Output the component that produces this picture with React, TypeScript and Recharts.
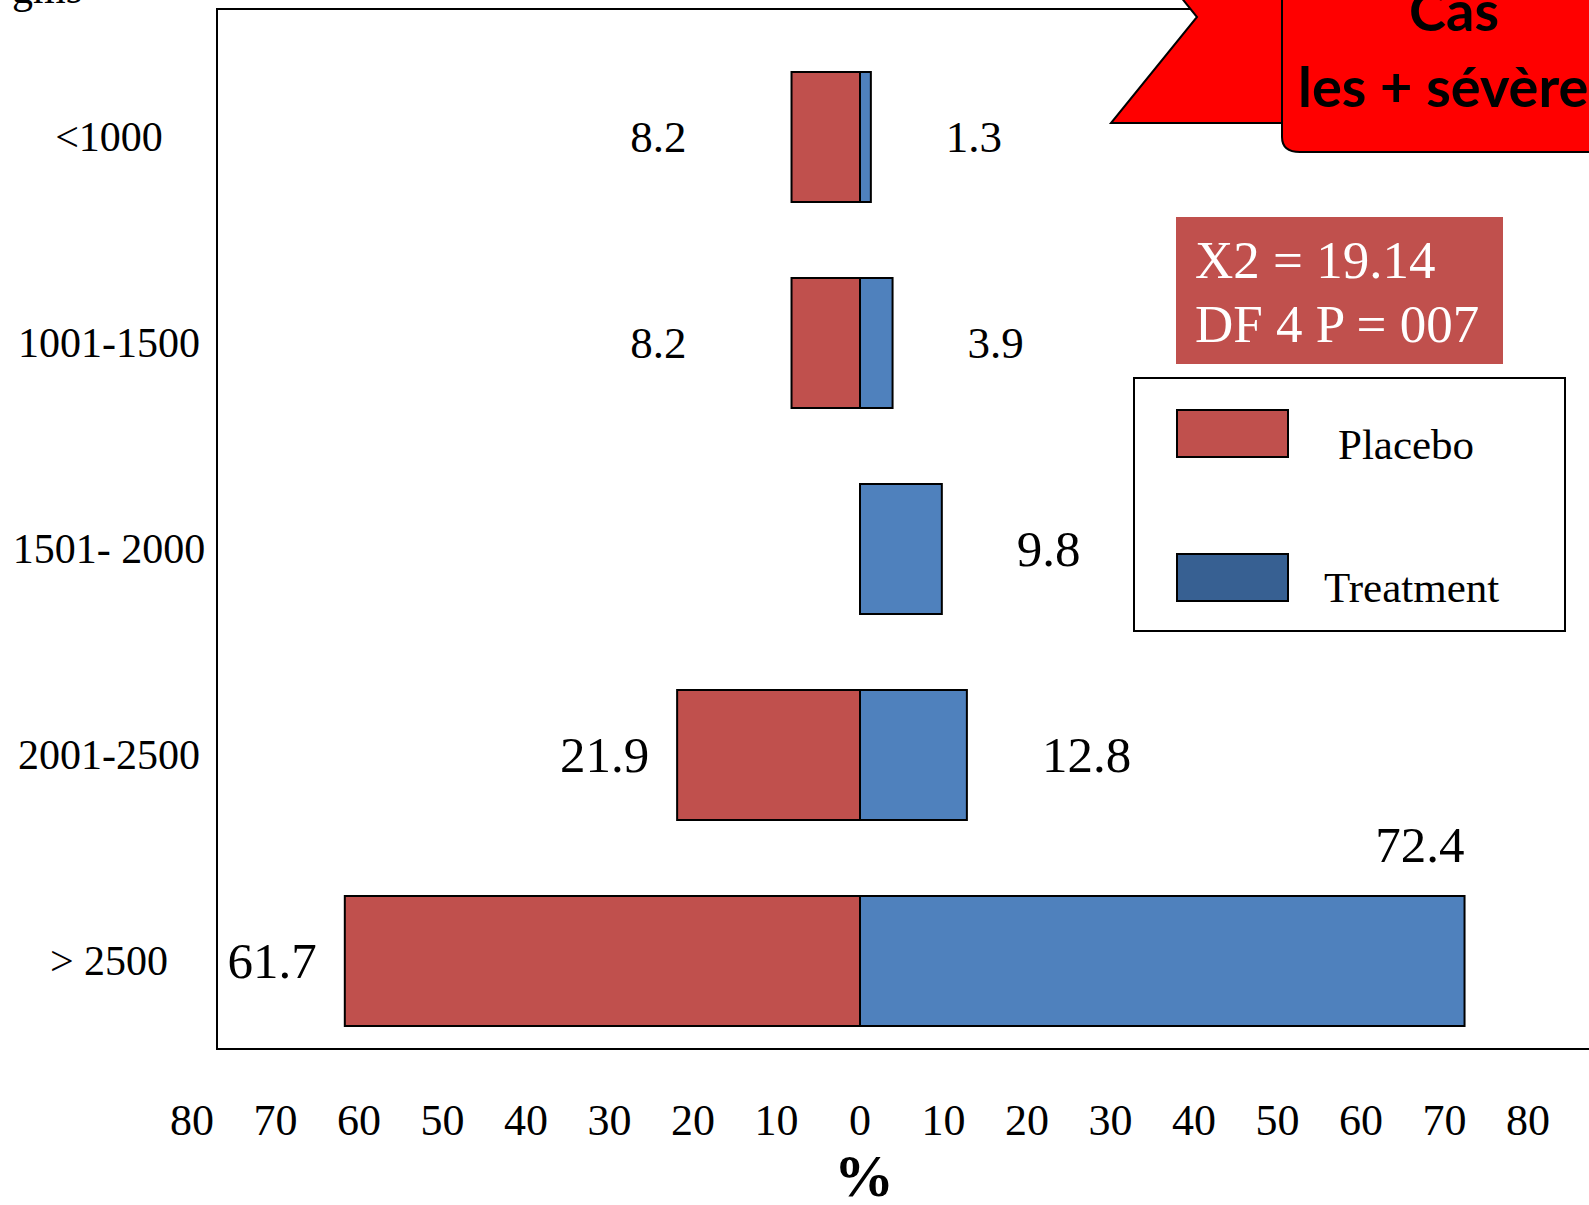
import React from "react";
import { BarChart, Bar, XAxis, YAxis, Legend, LabelList, Label } from "recharts";

// birth weight bands (gms), top to bottom
const weightBands = ["<1000", "1001-1500", "1501- 2000", "2001-2500", "> 2500"];
// share of cases per band, %
const placeboPct = [8.2, 8.2, 0, 21.9, 61.7];
const treatmentPct = [1.3, 3.9, 9.8, 12.8, 72.4];
const pctTicks = [-80, -70, -60, -50, -40, -30, -20, -10, 0, 10, 20, 30, 40, 50, 60, 70, 80];
const statLines = ["X2 = 19.14", "DF 4 P = 007"];

const SERIF = '"Liberation Serif", "Times New Roman", serif';
const PLACEBO = "#C0504D";
const TREATMENT = "#4F81BD";
const swatch: Record<string, string> = { Placebo: "#C0504D", Treatment: "#376092" };

// placebo goes to the left of zero
const rows = weightBands.map((band, i) => ({
  band,
  placebo: -placeboPct[i],
  treatment: treatmentPct[i],
}));

const BandTick = ({ x, y, payload }: any) => (
  <text x={x - 83} y={y} dy={14} textAnchor="middle" fontFamily={SERIF} fontSize={42} fill="#000">
    {payload.value}
  </text>
);

const PctTick = ({ x, y, payload }: any) => (
  <text x={x} y={y + 71} textAnchor="middle" fontFamily={SERIF} fontSize={44} fill="#000">
    {Math.abs(payload.value)}
  </text>
);

// labels get the band name as value, so the row is looked up from it
const valueLabel = (values: number[], side: "left" | "right") => (props: any) => {
  const i = weightBands.indexOf(props.value);
  const v = values[i];
  if (!v) return null;
  const vb = props.viewBox ?? props;
  const x0 = Math.min(vb.x, vb.x + vb.width);
  const x1 = Math.max(vb.x, vb.x + vb.width);
  const top = Math.min(vb.y, vb.y + vb.height);
  const cy = top + Math.abs(vb.height) / 2;
  const small = i < 2;
  const size = small ? 45 : 51;
  const common = { fontFamily: SERIF, fontSize: size, fill: "#000" };
  if (side === "right" && i === values.length - 1) {
    // widest bar: value sits above its end
    return (
      <text x={x1} y={top - 34} textAnchor="end" {...common}>
        {v.toFixed(1)}
      </text>
    );
  }
  return side === "left" ? (
    <text x={x0 - (small ? 105 : 28)} y={cy} dy={size * 0.34} textAnchor="end" {...common}>
      {v.toFixed(1)}
    </text>
  ) : (
    <text x={x1 + 75} y={cy} dy={size * 0.34} textAnchor="start" {...common}>
      {v.toFixed(1)}
    </text>
  );
};

const LegendBox = ({ payload }: any) => (
  <svg width={433} height={255} style={{ display: "block" }}>
    <rect x={1} y={1} width={431} height={253} fill="#fff" stroke="#000" strokeWidth={2} />
    {(payload || []).map((p: any, i: number) => (
      <g key={p.value}>
        <rect
          x={44}
          y={33 + i * 144}
          width={111}
          height={47}
          fill={swatch[p.value] ?? p.color}
          stroke="#000"
          strokeWidth={2}
        />
        <text
          x={i === 0 ? 205 : 191}
          y={i === 0 ? 82 : 225}
          fontFamily={SERIF}
          fontSize={43}
          fill="#000"
        >
          {p.value}
        </text>
      </g>
    ))}
  </svg>
);

export default function App() {
  return (
    <div style={{ position: "absolute", left: 0, top: 0, width: 1589, height: 1205, overflow: "hidden", background: "#fff" }}>
      {/* plot frame, open on the right */}
      <div
        style={{
          position: "absolute",
          left: 216,
          top: 8,
          width: 1500,
          height: 1042,
          border: "2px solid #000",
          boxSizing: "border-box",
        }}
      />
      <div style={{ position: "absolute", left: 0, top: 0 }}>
        <BarChart
          width={1589}
          height={1205}
          data={rows}
          layout="vertical"
          stackOffset="sign"
          barSize={130}
          margin={{ top: 34, right: 61, bottom: 0, left: 12 }}
        >
          <XAxis
            type="number"
            domain={[-80, 80]}
            ticks={pctTicks}
            interval={0}
            height={141}
            axisLine={false}
            tickLine={false}
            tickSize={0}
            tickMargin={0}
            tick={<PctTick />}
          >
            <Label
              content={({ viewBox }: any) => (
                <text
                  x={viewBox.x + viewBox.width / 2 + 4}
                  y={viewBox.y + 132}
                  textAnchor="middle"
                  fontFamily={SERIF}
                  fontWeight="bold"
                  fontSize={60}
                  fill="#000"
                >
                  %
                </text>
              )}
            />
          </XAxis>
          <YAxis
            type="category"
            dataKey="band"
            width={180}
            interval={0}
            axisLine={false}
            tickLine={false}
            tickSize={0}
            tickMargin={0}
            tick={<BandTick />}
          />
          <Legend
            layout="vertical"
            align="center"
            verticalAlign="middle"
            wrapperStyle={{ left: 1133, top: 377, width: 433, height: 255 }}
            content={<LegendBox />}
          />
          <Bar dataKey="placebo" name="Placebo" stackId="w" fill={PLACEBO} stroke="#000" strokeWidth={2} isAnimationActive={false}>
            <LabelList dataKey="band" content={valueLabel(placeboPct, "left")} />
          </Bar>
          <Bar dataKey="treatment" name="Treatment" stackId="w" fill={TREATMENT} stroke="#000" strokeWidth={2} isAnimationActive={false}>
            <LabelList dataKey="band" content={valueLabel(treatmentPct, "right")} />
          </Bar>
        </BarChart>
      </div>
      <svg width={1589} height={1205} style={{ position: "absolute", left: 0, top: 0, pointerEvents: "none" }}>
        <text x={12} y={3} fontFamily={SERIF} fontSize={42} fill="#000">
          gms
        </text>
        {/* banner */}
        <path d="M1180,-4 L1197,17 L1111,123 L1284,123 L1284,-4 Z" fill="#FF0000" stroke="#000" strokeWidth={2} />
        <path d="M1282,-4 L1282,137 Q1282,152 1300,152 L1600,152 L1600,-4 Z" fill="#FF0000" stroke="#000" strokeWidth={2} />
        <text x={1454} y={31} textAnchor="middle" fontFamily="Lato, sans-serif" fontWeight={700} fontSize={56} fill="#000">
          Cas
        </text>
        <text x={1298} y={107} fontFamily="Lato, sans-serif" fontWeight={700} fontSize={56} fill="#000">
          les + sévères
        </text>
        {/* test statistic */}
        <rect x={1176} y={217} width={327} height={147} fill="#C0504D" />
        {statLines.map((t, i) => (
          <text key={t} x={1195} y={278 + i * 64} fontFamily={SERIF} fontSize={53} fill="#fff">
            {t}
          </text>
        ))}
      </svg>
    </div>
  );
}
